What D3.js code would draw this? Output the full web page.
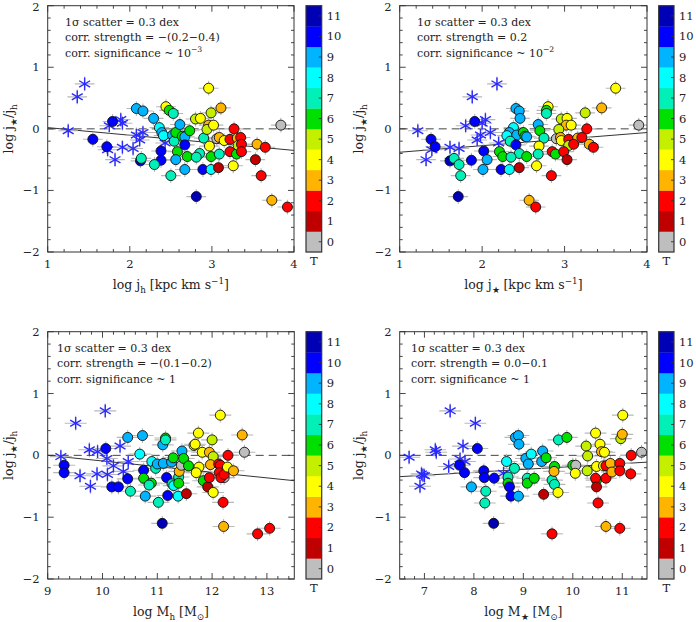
<!DOCTYPE html>
<html><head><meta charset="utf-8">
<script src="https://cdn.jsdelivr.net/npm/d3@7"></script>
<style>body{margin:0;background:#fff}svg{display:block}</style>
</head><body>
<svg id="c" width="696" height="622"></svg>
<script>
// ---------------- DATA ----------------
const typeLabels = ["0","1","2","3","4","5","6","7","8","9","10","11"];
const typeColors = ["#bebebe","#c00000","#ff0000","#ffb400","#ffff00","#c4f000",
                    "#00e000","#00f0b8","#00ffff","#00b4ff","#0000ff","#0000b4"];
const yTickValues = [-2,-1,0,1,2];
const yTickLabels = ["\u22122","\u22121","0","1","2"];

// panel 1: log j_h vs log j*/j_h  [x, y, T]
const jhCircles = [
 [1.55,-0.17,10],[1.79,0.12,10],[1.72,-0.29,10],
 [2.08,0.33,9],[2.16,0.29,9],[2.29,0.17,9],
 [2.44,0.36,4],[2.48,0.30,6],[2.53,0.25,7],
 [2.36,0.02,8],[2.39,-0.06,9],[2.41,-0.11,8],
 [2.38,-0.36,10],[2.38,-0.51,10],[2.13,-0.52,11],[2.14,-0.48,7],
 [2.30,-0.58,7],[2.50,-0.76,7],
 [2.52,-0.10,9],[2.54,-0.20,7],[2.56,-0.06,6],[2.58,-0.37,6],[2.56,-0.50,9],
 [2.61,0.07,9],[2.64,-0.12,6],[2.67,-0.13,9],[2.67,-0.26,10],[2.67,-0.66,9],
 [2.73,-0.03,6],[2.70,-0.45,6],[2.81,-1.10,11],
 [2.80,0.16,5],[2.86,0.17,4],[2.85,-0.40,7],[2.81,-0.46,7],[2.90,-0.15,7],[2.89,-0.66,10],
 [2.96,0.66,4],[2.96,0.06,3],[2.94,-0.01,5],[2.97,-0.28,4],[2.99,0.26,5],[2.99,-0.45,6],[2.99,-0.66,8],
 [3.02,0.06,4],[3.06,-0.16,0],[3.09,-0.14,3],[3.11,0.34,3],[3.08,-0.63,1],[3.09,-0.41,7],
 [3.15,-0.19,4],[3.22,-0.17,2],[3.22,-0.37,2],[3.27,0.00,2],[3.26,-0.60,4],
 [3.31,-0.15,3],[3.30,-0.41,6],[3.32,-0.27,5],[3.35,-0.14,2],[3.36,-0.25,2],[3.36,-0.37,2],
 [3.53,-0.50,1],[3.55,-0.25,3],[3.60,-0.76,2],[3.65,-0.30,2],[3.73,-1.16,3],[3.84,0.06,0],[3.92,-1.27,2]
];
const jhStars = [
 [1.25,-0.03],[1.36,0.52],[1.45,0.73],[1.75,0.05],[1.89,0.15],[1.91,0.09],[1.73,-0.34],
 [1.82,-0.50],[1.91,-0.30],[2.04,-0.32],[2.08,-0.10],[2.12,-0.18],[2.16,-0.06],[2.43,-0.23]
];

// panel 2: log j* vs log j*/j_h
const jsCircles = [
 [1.38,-0.17,10],[1.91,0.12,10],[1.43,-0.29,10],
 [2.41,0.33,9],[2.45,0.29,9],[2.46,0.17,9],
 [2.80,0.36,4],[2.78,0.30,6],[2.78,0.25,7],
 [2.38,0.02,8],[2.33,-0.06,9],[2.30,-0.11,8],
 [2.02,-0.36,10],[1.87,-0.51,10],[1.61,-0.52,11],[1.66,-0.48,7],
 [1.72,-0.58,7],[1.74,-0.76,7],
 [2.42,-0.10,9],[2.34,-0.20,7],[2.50,-0.06,6],[2.21,-0.37,6],[2.06,-0.50,9],
 [2.68,0.07,9],[2.52,-0.12,6],[2.54,-0.13,9],[2.41,-0.26,10],[2.01,-0.66,9],
 [2.70,-0.03,6],[2.25,-0.45,6],[1.71,-1.10,11],
 [2.96,0.16,5],[3.03,0.17,4],[2.45,-0.40,7],[2.35,-0.46,7],[2.75,-0.15,7],[2.23,-0.66,10],
 [3.62,0.66,4],[3.02,0.06,3],[2.93,-0.01,5],[2.69,-0.28,4],[3.25,0.26,5],[2.54,-0.45,6],[2.33,-0.66,8],
 [3.08,0.06,4],[2.90,-0.16,0],[2.95,-0.14,3],[3.45,0.34,3],[2.45,-0.63,1],[2.68,-0.41,7],
 [2.96,-0.19,4],[3.05,-0.17,2],[2.85,-0.37,2],[3.27,0.00,2],[2.66,-0.60,4],
 [3.16,-0.15,3],[2.89,-0.41,6],[3.05,-0.27,5],[3.21,-0.14,2],[3.11,-0.25,2],[2.99,-0.37,2],
 [3.03,-0.50,1],[3.30,-0.25,3],[2.84,-0.76,2],[3.35,-0.30,2],[2.57,-1.16,3],[3.90,0.06,0],[2.65,-1.27,2]
];
const jsStars = [
 [1.22,-0.03],[1.88,0.52],[2.18,0.73],[1.80,0.05],[2.04,0.15],[2.00,0.09],[1.39,-0.34],
 [1.32,-0.50],[1.61,-0.30],[1.72,-0.32],[1.98,-0.10],[1.94,-0.18],[2.10,-0.06],[2.20,-0.23]
];

// panel 3: log M_h vs log j*/j_h
const mhCircles = [
 [9.30,-0.16,10],[9.30,-0.28,10],[10.06,0.11,10],[10.17,-0.51,10],[10.29,-0.51,10],
 [10.46,-0.38,10],[10.75,-0.24,10],[11.17,-0.36,10],[11.19,-0.65,10],[11.09,-1.10,11],
 [10.46,0.29,9],[10.73,0.32,9],[11.10,0.17,9],[11.15,0.28,6],[11.15,0.25,7],
 [10.68,0.02,8],[10.51,-0.58,7],[10.78,-0.66,9],[10.90,-0.10,8],[10.97,-0.21,7],
 [11.00,-0.14,9],[11.11,-0.13,9],[10.75,-0.37,6],[10.89,-0.45,6],[10.85,-0.48,7],
 [11.02,-0.76,7],[11.26,-0.11,9],[11.29,-0.04,6],[11.27,-0.46,7],[11.30,-0.49,8],
 [11.39,-0.35,7],[11.39,-0.45,6],[11.38,-0.66,8],[11.45,0.07,9],[11.40,-0.26,3],
 [11.44,-0.16,0],[11.48,-0.05,6],[11.57,-0.17,6],[11.53,-0.62,1],
 [11.67,0.16,5],[11.69,0.18,4],[11.75,0.36,4],[11.76,-0.19,4],[11.71,-0.28,4],
 [11.82,0.05,4],[11.84,-0.41,6],[11.95,0.05,3],[12.00,0.25,5],[12.02,-0.02,5],
 [11.97,-0.15,3],[11.92,-0.51,1],[11.95,-0.36,2],[12.02,-0.60,4],
 [12.22,-0.36,0],[12.12,-0.14,2],[12.15,-0.16,2],[12.13,-0.28,2],[12.16,-0.36,2],
 [12.22,-0.31,2],[12.20,-0.76,2],[12.15,0.65,4],[12.29,0.00,2],[12.28,-0.19,4],
 [12.39,-0.25,3],[12.21,-1.15,3],[12.55,0.33,3],[12.59,0.05,0],[12.83,-1.27,2],[13.05,-1.18,2]
];
const mhStars = [
 [9.24,-0.02],[9.51,0.52],[10.05,0.72],[9.76,0.09],[9.91,0.06],[10.32,0.15],[9.59,-0.33],
 [9.78,-0.50],[9.90,-0.30],[10.08,-0.05],[10.09,-0.31],[10.20,-0.17],[10.38,-0.26],[10.47,-0.10]
];

// panel 4: log M* vs log j*/j_h
const msCircles = [
 [7.71,-0.16,10],[7.81,-0.28,10],[8.07,0.11,10],[7.95,-0.51,9],[8.20,-0.25,10],
 [8.21,-0.36,10],[8.24,-0.58,7],[8.22,-0.77,7],[8.41,-0.37,10],[8.40,-1.10,11],
 [8.66,-0.10,8],[8.69,-0.35,7],[8.69,-0.45,6],[8.72,-0.51,10],[8.75,-0.66,10],
 [8.82,-0.21,7],[8.84,0.29,9],[8.90,0.32,9],[8.91,0.18,9],[8.90,-0.66,9],
 [9.05,-0.05,9],[9.10,-0.14,9],[9.16,0.02,8],[9.08,-0.37,7],[9.08,-0.45,6],
 [9.22,-0.37,6],[9.37,-0.10,9],[9.39,0.07,9],[9.46,-0.04,6],[9.41,-0.63,1],
 [9.58,-1.27,2],[9.58,-0.40,7],[9.63,-0.47,7],[9.63,-0.18,6],[9.62,-0.26,3],
 [9.70,-0.60,4],[9.71,0.25,7],[9.88,0.29,6],[10.00,-0.16,6],[10.06,-0.16,0],
 [10.05,-0.29,4],[10.27,0.15,5],[10.30,-0.01,5],[10.29,-0.25,5],[10.46,0.36,4],
 [10.48,-0.18,4],[10.48,-0.40,6],[10.46,-0.37,2],[10.48,-0.51,1],[10.51,-0.77,2],
 [10.55,0.18,4],[10.58,0.06,3],[10.64,0.05,4],[10.62,-0.17,4],[10.67,-0.17,2],
 [10.67,-0.37,2],[10.67,-1.15,3],[10.76,-0.13,3],[10.79,-0.27,3],[10.95,-0.13,2],
 [10.95,-0.25,2],[10.95,-1.18,2],[10.97,0.27,5],[11.00,0.34,3],[11.01,0.65,4],
 [11.17,-0.30,2],[11.18,0.00,2],[11.39,0.05,0]
];
const msStars = [
 [6.69,-0.03],[8.03,0.52],[7.52,0.72],[7.24,0.05],[7.78,0.15],[7.22,0.09],[7.00,-0.33],
 [6.91,-0.50],[6.94,-0.30],[8.60,-0.29],[7.82,-0.10],[7.49,-0.18],[7.72,-0.06],[6.97,-0.32]
];

// fit lines [[x0,y0],[x1,y1]]
const jhFit = [[1,0.02],[4,-0.35]];
const jsFit = [[1,-0.38],[4,-0.06]];
const mhFit = [[9,0.0],[13.5,-0.41]];
const msFit = [[6.5,-0.345],[11.5,-0.11]];

const jhXTicks = [1,2,3,4];
const jsXTicks = [1,2,3,4];
const mhXTicks = [9,10,11,12,13];
const msXTicks = [7,8,9,10,11];

const jhNotes = [[["1\u03c3 scatter = 0.3 dex","n"]],[["corr. strength = \u2212(0.2\u22120.4)","n"]],[["corr. significance ~ 10","n"],["\u22123","sup"]]];
const jsNotes = [[["1\u03c3 scatter = 0.3 dex","n"]],[["corr. strength = 0.2","n"]],[["corr. significance ~ 10","n"],["\u22122","sup"]]];
const mhNotes = [[["1\u03c3 scatter = 0.3 dex","n"]],[["corr. strength = \u2212(0.1\u22120.2)","n"]],[["corr. significance ~ 1","n"]]];
const msNotes = [[["1\u03c3 scatter = 0.3 dex","n"]],[["corr. strength = 0.0\u22120.1","n"]],[["corr. significance ~ 1","n"]]];

const jhXLabel = [["log  j","n"],["h","sub"],["  [kpc km s","n"],["\u22121","sup"],["]","n"]];
const jsXLabel = [["log  j","n"],["\u2605","sub"],["  [kpc km s","n"],["\u22121","sup"],["]","n"]];
const mhXLabel = [["log  M","n"],["h","sub"],["  [M","n"],["\u2299","sub"],["]","n"]];
const msXLabel = [["log  M","n"],["\u2605","sub"],["  [M","n"],["\u2299","sub"],["]","n"]];
const yLabel = [["log  j","n"],["\u2605","sub"],["/j","n"],["h","sub"]];

// ---------------- LAYOUT ----------------
const FONT = "'DejaVu Serif','Liberation Serif',serif";
const panels = [
 {circles:jhCircles, stars:jhStars, xd:[1,4], xt:jhXTicks, fit:jhFit, notes:jhNotes, xl:jhXLabel,
  L:47.7, R:294, T:5.7, B:252, cbL:306, cbR:321.7, noteX:65, ylX:13, errX:0.12, errY:0.12},
 {circles:jsCircles, stars:jsStars, xd:[1,4], xt:jsXTicks, fit:jsFit, notes:jsNotes, xl:jsXLabel,
  L:399.7, R:647, T:5.7, B:252, cbL:658.7, cbR:674, noteX:417, ylX:363, errX:0.12, errY:0.12},
 {circles:mhCircles, stars:mhStars, xd:[9,13.5], xt:mhXTicks, fit:mhFit, notes:mhNotes, xl:mhXLabel,
  L:47.7, R:294.3, T:331.7, B:579, cbL:306, cbR:321.7, noteX:57, ylX:13, errX:0.2, errY:0.12},
 {circles:msCircles, stars:msStars, xd:[6.5,11.5], xt:msXTicks, fit:msFit, notes:msNotes, xl:msXLabel,
  L:399.7, R:647, T:331.7, B:579, cbL:658.7, cbR:674, noteX:411, ylX:363, errX:0.22, errY:0.12}
];

const svg = d3.select("#c");
const AX = "#333";

function rich(sel, parts, size) {
  let shift = 0;
  parts.forEach(([t,k]) => {
    const target = k === "sub" ? size*0.32 : k === "sup" ? -size*0.42 : 0;
    sel.append("tspan").attr("dy", target - shift)
      .attr("font-size", k === "n" ? size : size*0.7).text(t);
    shift = target;
  });
}

panels.forEach(p => {
  const g = svg.append("g");
  const x = d3.scaleLinear().domain(p.xd).range([p.L, p.R]);
  const y = d3.scaleLinear().domain([-2,2]).range([p.B, p.T]);
  const cp = "clip" + Math.round(p.L) + "_" + Math.round(p.T);
  g.append("clipPath").attr("id", cp).append("rect")
    .attr("x", p.L).attr("y", p.T).attr("width", p.R - p.L).attr("height", p.B - p.T);
  const plot = g.append("g").attr("clip-path", `url(#${cp})`);

  // reference dashed line & fit
  plot.append("line").attr("x1", x(p.xd[0])).attr("x2", x(p.xd[1])).attr("y1", y(0)).attr("y2", y(0))
    .attr("stroke", "#444").attr("stroke-width", 1).attr("stroke-dasharray", "8,5");
  plot.append("line").attr("x1", x(p.fit[0][0])).attr("y1", y(p.fit[0][1]))
    .attr("x2", x(p.fit[1][0])).attr("y2", y(p.fit[1][1]))
    .attr("stroke", "#333").attr("stroke-width", 1);

  // error bars
  const allPts = p.stars.map(d => [d[0], d[1]]).concat(p.circles.map(d => [d[0], d[1]]));
  const eb = plot.append("g").attr("stroke", "#b8b8b8").attr("stroke-width", 1.1);
  allPts.forEach(d => {
    eb.append("line").attr("x1", x(d[0]-p.errX)).attr("x2", x(d[0]+p.errX)).attr("y1", y(d[1])).attr("y2", y(d[1]));
    eb.append("line").attr("x1", x(d[0])).attr("x2", x(d[0])).attr("y1", y(d[1]-p.errY)).attr("y2", y(d[1]+p.errY));
  });

  // stars (asterisks)
  const st = plot.append("g").attr("stroke", "#2a2aff").attr("stroke-width", 1.4);
  p.stars.forEach(d => {
    const cx = x(d[0]), cy = y(d[1]), r = 6.3;
    [90, 30, -30].forEach(a => {
      const rad = a*Math.PI/180, dx = r*Math.cos(rad), dy = r*Math.sin(rad);
      st.append("line").attr("x1", cx-dx).attr("y1", cy-dy).attr("x2", cx+dx).attr("y2", cy+dy);
    });
  });

  // circles
  plot.append("g").selectAll("circle").data(p.circles).join("circle")
    .attr("cx", d => x(d[0])).attr("cy", d => y(d[1])).attr("r", 5)
    .attr("fill", d => typeColors[d[2]]).attr("stroke", "#111").attr("stroke-width", 0.9);

  // frame & ticks
  g.append("rect").attr("x", p.L).attr("y", p.T).attr("width", p.R-p.L).attr("height", p.B-p.T)
    .attr("fill", "none").attr("stroke", AX).attr("stroke-width", 1);
  const tk = g.append("g").attr("stroke", AX).attr("stroke-width", 0.9);
  const xMinor = d3.range(Math.ceil(p.xd[0]*5), Math.floor(p.xd[1]*5)+1).map(v => v/5);
  xMinor.forEach(v => {
    const major = Math.abs(v - Math.round(v)) < 1e-6;
    const len = major ? 6 : 3;
    tk.append("line").attr("x1", x(v)).attr("x2", x(v)).attr("y1", p.B).attr("y2", p.B-len);
    tk.append("line").attr("x1", x(v)).attr("x2", x(v)).attr("y1", p.T).attr("y2", p.T+len);
  });
  d3.range(-10, 11).map(v => v/5).forEach(v => {
    const major = Math.abs(v - Math.round(v)) < 1e-6;
    const len = major ? 6 : 3;
    tk.append("line").attr("y1", y(v)).attr("y2", y(v)).attr("x1", p.L).attr("x2", p.L+len);
    tk.append("line").attr("y1", y(v)).attr("y2", y(v)).attr("x1", p.R).attr("x2", p.R-len);
  });

  // tick labels
  const tl = g.append("g").attr("font-family", FONT).attr("font-size", 11.5).attr("fill", "#222");
  p.xt.forEach(v => tl.append("text").attr("x", x(v)).attr("y", p.B + 16).attr("text-anchor", "middle").text(v));
  yTickValues.forEach((v,i) => tl.append("text").attr("x", p.L - 8).attr("y", Math.max(y(v) + 4, 11))
    .attr("text-anchor", "end").text(yTickLabels[i]));

  // axis titles
  const xt = g.append("text").attr("x", (p.L+p.R)/2).attr("y", p.B + 37).attr("text-anchor", "middle")
    .attr("font-family", FONT).attr("fill", "#222");
  rich(xt, p.xl, 12.5);
  const yt = g.append("text").attr("transform", `translate(${p.ylX},${(p.T+p.B)/2}) rotate(-90)`)
    .attr("text-anchor", "middle").attr("font-family", FONT).attr("fill", "#222");
  rich(yt, yLabel, 12.5);

  // notes
  p.notes.forEach((line, i) => {
    const t = g.append("text").attr("x", p.noteX).attr("y", p.T + 20 + i*15.5)
      .attr("font-family", FONT).attr("fill", "#222");
    rich(t, line, 11);
  });

  // colorbar
  const cy = d3.scaleBand().domain(typeLabels.slice().reverse()).range([p.T, p.B]).padding(0);
  const cb = g.append("g");
  typeLabels.forEach((lab, i) => {
    cb.append("rect").attr("x", p.cbL).attr("y", cy(lab)).attr("width", p.cbR - p.cbL)
      .attr("height", cy.bandwidth() + 0.3).attr("fill", typeColors[i]);
    cb.append("line").attr("x1", p.cbR).attr("x2", p.cbR - 3)
      .attr("y1", cy(lab) + cy.bandwidth()/2).attr("y2", cy(lab) + cy.bandwidth()/2)
      .attr("stroke", AX).attr("stroke-width", 0.9);
    cb.append("text").attr("x", p.cbR + 5).attr("y", cy(lab) + cy.bandwidth()/2 + 4)
      .attr("font-family", FONT).attr("font-size", 11.5).attr("fill", "#222").text(lab);
  });
  cb.append("rect").attr("x", p.cbL).attr("y", p.T).attr("width", p.cbR - p.cbL).attr("height", p.B - p.T)
    .attr("fill", "none").attr("stroke", AX).attr("stroke-width", 1.2);
  cb.append("text").attr("x", (p.cbL + p.cbR)/2).attr("y", p.B + 13).attr("text-anchor", "middle")
    .attr("font-family", FONT).attr("font-size", 11.5).attr("fill", "#222").text("T");
});
</script>
</body></html>
